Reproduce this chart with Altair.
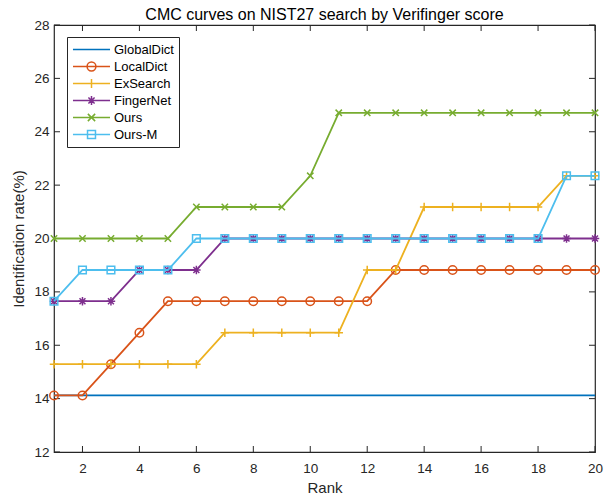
import altair as alt
import pandas as pd

# ---- data -------------------------------------------------------------
ranks = list(range(1, 21))
series_names = ["GlobalDict", "LocalDict", "ExSearch", "FingerNet", "Ours", "Ours-M"]

global_dict = [14.12] * 20
local_dict = [14.12, 14.12, 15.29, 16.47, 17.65, 17.65, 17.65, 17.65, 17.65, 17.65,
              17.65, 17.65, 18.82, 18.82, 18.82, 18.82, 18.82, 18.82, 18.82, 18.82]
ex_search = [15.29, 15.29, 15.29, 15.29, 15.29, 15.29, 16.47, 16.47, 16.47, 16.47,
             16.47, 18.82, 18.82, 21.18, 21.18, 21.18, 21.18, 21.18, 22.35, 22.35]
finger_net = [17.65, 17.65, 17.65, 18.82, 18.82, 18.82, 20.00, 20.00, 20.00, 20.00,
              20.00, 20.00, 20.00, 20.00, 20.00, 20.00, 20.00, 20.00, 20.00, 20.00]
ours = [20.00, 20.00, 20.00, 20.00, 20.00, 21.18, 21.18, 21.18, 21.18, 22.35,
        24.71, 24.71, 24.71, 24.71, 24.71, 24.71, 24.71, 24.71, 24.71, 24.71]
ours_m = [17.65, 18.82, 18.82, 18.82, 18.82, 20.00, 20.00, 20.00, 20.00, 20.00,
          20.00, 20.00, 20.00, 20.00, 20.00, 20.00, 20.00, 20.00, 22.35, 22.35]

x_ticks = [2, 4, 6, 8, 10, 12, 14, 16, 18, 20]
y_ticks = [12, 14, 16, 18, 20, 22, 24, 26, 28]

# ---- styling ----------------------------------------------------------
colors = ["#0072BD", "#D95319", "#EDB120", "#7E2F8E", "#77AC30", "#4DBEEE"]

# marker outlines (unit-box symbol paths)
circle_path = "M1,0A1,1 0 1,1 -1,0A1,1 0 1,1 1,0Z"
square_path = "M-0.9,-0.9H0.9V0.9H-0.9Z"
plus_path = "M-1,0H1M0,-1V1"
x_path = "M-0.75,-0.75L0.75,0.75M-0.75,0.75L0.75,-0.75"
star_path = "M-1,0H1M0,-1V1M-0.7,-0.7L0.7,0.7M-0.7,0.7L0.7,-0.7"
markers = [None, circle_path, plus_path, star_path, x_path, square_path]


def scaled(path, k):
    """Scale a simple M/H/V/L path by factor k."""
    out = []
    num = ""
    for ch in path + " ":
        if ch in "-.0123456789":
            num += ch
        else:
            if num:
                out.append(f"{float(num) * k:.3f}")
                num = ""
            out.append(ch)
    return "".join(out).strip()


def scaled_arc(k):
    return f"M{k},0A{k},{k} 0 1,1 {-k},0A{k},{k} 0 1,1 {k},0Z"


# legend glyphs: a line segment with the marker in its centre
LEG_SIZE = 169          # symbol box of 13 px -> 6.5 px per path unit
half_line = 2.85        # about 37 px of line
mk = 0.68               # marker radius in path units
line_seg = f"M{-half_line},0H{half_line}"
legend_paths = [
    line_seg,
    line_seg + scaled_arc(mk),
    line_seg + scaled(plus_path, mk),
    line_seg + scaled(star_path, mk),
    line_seg + scaled(x_path, mk * 1.1),
    line_seg + scaled(square_path, mk),
]

all_values = [global_dict, local_dict, ex_search, finger_net, ours, ours_m]
rows = []
for name, vals in zip(series_names, all_values):
    for r, v in zip(ranks, vals):
        rows.append({"rank": r, "rate": v, "series": name})
df = pd.DataFrame(rows)

W, H = 541, 427
TICK = 6
FONT = "Liberation Sans"

x_scale = alt.Scale(domain=[1, 20], nice=False, zero=False)
y_scale = alt.Scale(domain=[12, 28], nice=False, zero=False)

x_enc = alt.X("rank:Q", scale=x_scale,
              axis=alt.Axis(values=x_ticks, title="Rank", grid=False, ticks=False,
                            tickSize=0, domain=False, labelPadding=9,
                            titlePadding=6, labelFlush=False))
y_enc = alt.Y("rate:Q", scale=y_scale,
              axis=alt.Axis(values=y_ticks, title="Identification rate(%)", grid=False,
                            ticks=False, tickSize=0, domain=False, labelPadding=5,
                            titlePadding=7, labelFlush=False))

layers = []
for name, col, mpath in zip(series_names, colors, markers):
    sub = alt.Chart(df).transform_filter(alt.datum.series == name)
    layers.append(
        sub.mark_line(color=col, strokeWidth=1.8).encode(x=x_enc, y=y_enc)
    )
    if mpath is not None:
        layers.append(
            sub.mark_point(color=col, shape=mpath, size=72, filled=False,
                           strokeWidth=1.5, opacity=1).encode(x="rank:Q", y="rate:Q")
        )

# legend layer: no marks drawn, only the legend entries from the explicit domains
legend_layer = alt.Chart(df).transform_filter(alt.datum.rank < 0).mark_point(
    filled=False, strokeWidth=1.5, opacity=1
).encode(
    x="rank:Q",
    y="rate:Q",
    color=alt.Color("series:N", scale=alt.Scale(domain=series_names, range=colors),
                    legend=alt.Legend(title=None)),
    shape=alt.Shape("series:N", scale=alt.Scale(domain=series_names, range=legend_paths),
                    legend=alt.Legend(title=None)),
)

# inward tick marks on all four sides of the box
xt = pd.DataFrame({"t": x_ticks})
yt = pd.DataFrame({"t": y_ticks})
tick_style = dict(color="#262626", strokeWidth=1)
ticks = [
    alt.Chart(xt).mark_rule(**tick_style).encode(x="t:Q", y=alt.value(H), y2=alt.value(H - TICK)),
    alt.Chart(xt).mark_rule(**tick_style).encode(x="t:Q", y=alt.value(0), y2=alt.value(TICK)),
    alt.Chart(yt).mark_rule(**tick_style).encode(y="t:Q", x=alt.value(0), x2=alt.value(TICK)),
    alt.Chart(yt).mark_rule(**tick_style).encode(y="t:Q", x=alt.value(W), x2=alt.value(W - TICK)),
]

chart = alt.layer(*ticks, *layers, legend_layer).properties(
    width=W,
    height=H,
    autosize=alt.AutoSizeParams(type="none"),
    padding={"left": 54, "top": 25, "right": 15, "bottom": 48},
    title=alt.Title("CMC curves on NIST27 search by Verifinger score",
                    font=FONT, fontSize=16, fontWeight="normal", color="#000000",
                    offset=3, dy=8, anchor="middle", frame="group"),
).configure_view(
    stroke="#262626", strokeWidth=1.2
).configure_axis(
    labelFont=FONT, labelFontSize=13.5, labelColor="#262626",
    titleFont=FONT, titleFontSize=15, titleFontWeight="normal", titleColor="#262626",
).configure_legend(
    orient="none", legendX=13, legendY=12,
    labelFont=FONT, labelFontSize=13, labelColor="#000000",
    symbolSize=LEG_SIZE, symbolStrokeWidth=1.5, symbolOpacity=1,
    strokeColor="#262626", fillColor="white", padding=5,
    symbolOffset=12, labelOffset=15, rowPadding=2,
    cornerRadius=0,
)

chart.save("out.html", embed_options={"renderer": "svg", "actions": False})
